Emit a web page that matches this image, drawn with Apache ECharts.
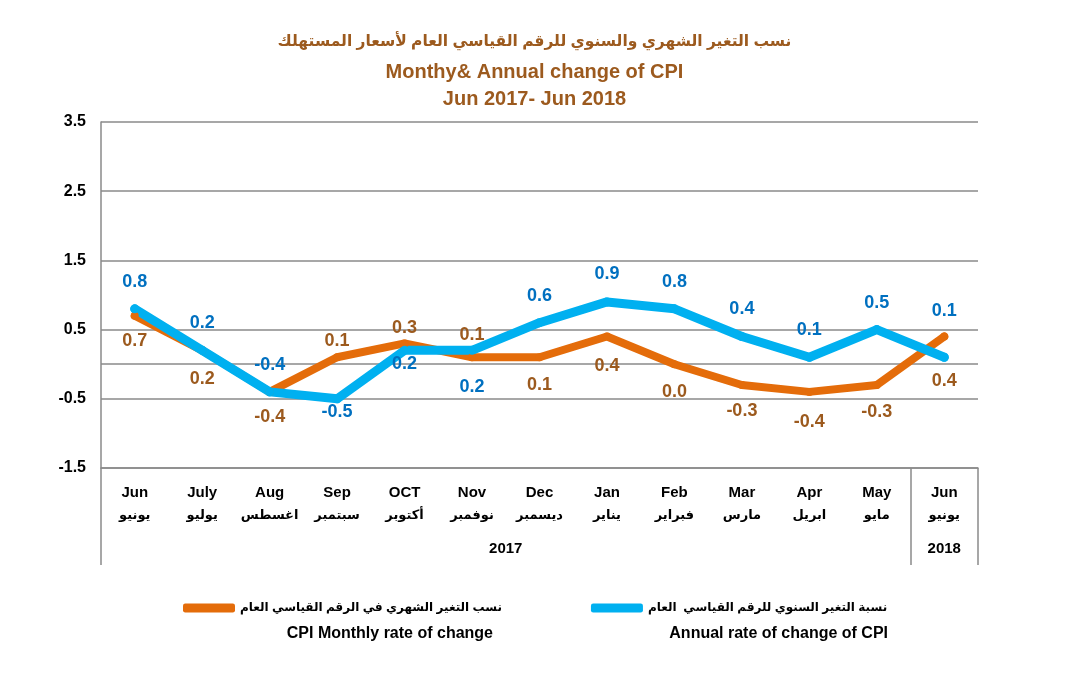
<!DOCTYPE html>
<html>
<head>
<meta charset="utf-8">
<script src="https://cdn.jsdelivr.net/npm/echarts@6/dist/echarts.min.js"></script>
<style>
html, body { margin: 0; padding: 0; background: #fff; }
#grafica { width: 1069px; height: 685px; }
</style>
</head>
<body>
<div id="grafica"></div>
<script>
var mesesEn = ['Jun', 'July', 'Aug', 'Sep', 'OCT', 'Nov', 'Dec', 'Jan', 'Feb', 'Mar', 'Apr', 'May', 'Jun'];
var mesesAr = ['يونيو', 'يوليو', 'اغسطس', 'سبتمبر', 'أكتوبر', 'نوفمبر', 'ديسمبر', 'يناير', 'فبراير', 'مارس', 'ابريل', 'مايو', 'يونيو'];
var anios = ['2017', '2018'];
var mesesPorAnio = [12, 1];
var mensual = [0.7, 0.2, -0.4, 0.1, 0.3, 0.1, 0.1, 0.4, 0.0, -0.3, -0.4, -0.3, 0.4];
var anual = [0.8, 0.2, -0.4, -0.5, 0.2, 0.2, 0.6, 0.9, 0.8, 0.4, 0.1, 0.5, 0.1];
var ejeY = [-1.5, -0.5, 0.5, 1.5, 2.5, 3.5];

// separacion de cada etiqueta respecto al punto (px, negativo = arriba)
var sepMensual = [26, 30, 26, -17, -16, -23, 29, 31, 29, 27, 31, 28, 46];
var sepAnual = [-27, -28, -27, 14, 14, 37, -27, -28, -27, -28, -28, -27, -47];

var fuente = "'Liberation Sans', 'DejaVu Sans', sans-serif";
var gris = '#8a8a8a';
var cafe = '#9c5a1e';

function CentroAnio(i) {
     var inicio = 0;
     for (var k = 0; k < i; k++) inicio += mesesPorAnio[k];
     return inicio + mesesPorAnio[i] / 2;
}

function ArmaSerie(nombre, valores, separaciones, color, colorTexto, ancho) {
     return {
          name: nombre,
          type: 'line',
          symbol: 'circle',
          symbolSize: ancho,
          itemStyle: { color: color },
          lineStyle: { color: color, width: ancho, cap: 'round', join: 'round' },
          emphasis: { disabled: true },
          label: {
               show: true,
               color: colorTexto,
               fontFamily: fuente,
               fontWeight: 'bold',
               fontSize: 18,
               formatter: function (p) { return p.value.toFixed(1); }
          },
          data: valores.map(function (v, i) {
               var s = separaciones[i];
               return {
                    value: v,
                    label: {
                         position: s < 0 ? 'top' : 'bottom',
                         distance: Math.max(0, Math.abs(s) - 14)
                    }
               };
          })
     };
}

var nombreMensual = 'نسب التغير الشهري في الرقم القياسي العام';
var nombreAnual = 'نسبة التغير السنوي للرقم القياسي  العام';

var serieMensual = ArmaSerie(nombreMensual, mensual, sepMensual, '#e46c0a', cafe, 8);
serieMensual.markLine = {
     silent: true,
     z: 1,
     symbol: 'none',
     label: { show: false },
     lineStyle: { color: gris, width: 1.5, type: 'solid' },
     data: [{ yAxis: 0 }]
};
var serieAnual = ArmaSerie(nombreAnual, anual, sepAnual, '#00b0f0', '#0070c0', 9);

var grafica = echarts.init(document.getElementById('grafica'));

grafica.setOption({
     animation: false,
     backgroundColor: '#fff',
     title: [{
          text: 'نسب التغير الشهري والسنوي للرقم القياسي العام لأسعار المستهلك',
          left: 'center', top: 34, padding: 0,
          textStyle: { color: cafe, fontFamily: fuente, fontWeight: 'bold', fontSize: 15.5 }
     }, {
          text: 'Monthy& Annual change of CPI',
          left: 'center', top: 62, padding: 0,
          textStyle: { color: cafe, fontFamily: fuente, fontWeight: 'bold', fontSize: 20 }
     }, {
          text: 'Jun 2017- Jun 2018',
          left: 'center', top: 89, padding: 0,
          textStyle: { color: cafe, fontFamily: fuente, fontWeight: 'bold', fontSize: 20 }
     }, {
          text: 'CPI Monthly rate of change',
          right: 576, top: 626, padding: 0,
          textStyle: { color: '#000', fontFamily: fuente, fontWeight: 'bold', fontSize: 16 }
     }, {
          text: 'Annual rate of change of CPI',
          right: 181, top: 626, padding: 0,
          textStyle: { color: '#000', fontFamily: fuente, fontWeight: 'bold', fontSize: 16 }
     }],
     legend: {
          left: 183,
          top: 602,
          padding: 0,
          itemGap: 89,
          itemWidth: 52,
          itemHeight: 9,
          icon: 'roundRect',
          textStyle: { color: '#000', fontFamily: fuente, fontWeight: 'bold', fontSize: 12 },
          data: [nombreMensual, nombreAnual]
     },
     grid: {
          left: 101,
          right: 91,
          top: 122,
          bottom: 217
     },
     xAxis: [{
          type: 'category',
          position: 'bottom',
          boundaryGap: true,
          data: mesesEn,
          axisLine: { onZero: false, lineStyle: { color: gris, width: 1.5 } },
          axisTick: {
               show: true,
               length: 97,
               interval: function (i) { return i === 0 || i === mesesPorAnio[0]; },
               lineStyle: { color: gris, width: 1.5 }
          },
          axisLabel: {
               interval: 0,
               margin: 14,
               formatter: function (v, i) { return '{e|' + v + '}\n{a|' + mesesAr[i] + '}'; },
               rich: {
                    e: { fontFamily: fuente, fontWeight: 'bold', fontSize: 15, color: '#000', lineHeight: 22 },
                    a: { fontFamily: fuente, fontWeight: 'bold', fontSize: 13, color: '#000', lineHeight: 22 }
               }
          },
          splitLine: { show: false }
     }, {
          type: 'value',
          position: 'bottom',
          min: 0,
          max: mesesEn.length,
          interval: 0.5,
          axisLine: { show: false },
          axisTick: { show: false },
          splitLine: { show: false },
          axisLabel: {
               margin: 73,
               color: '#000',
               fontFamily: fuente,
               fontWeight: 'bold',
               fontSize: 15,
               formatter: function (v) {
                    for (var i = 0; i < anios.length; i++) {
                         if (v === CentroAnio(i)) return anios[i];
                    }
                    return '';
               }
          }
     }],
     yAxis: [{
          type: 'value',
          min: ejeY[0],
          max: ejeY[ejeY.length - 1],
          interval: 1,
          axisLine: { show: true, lineStyle: { color: gris, width: 1.5 } },
          axisTick: { show: false },
          splitLine: { show: true, lineStyle: { color: gris, width: 1.5 } },
          axisLabel: {
               margin: 15,
               color: '#000',
               fontFamily: fuente,
               fontWeight: 'bold',
               fontSize: 16,
               formatter: function (v) { return v.toFixed(1); }
          }
     }],
     series: [serieMensual, serieAnual]
});
</script>
</body>
</html>
